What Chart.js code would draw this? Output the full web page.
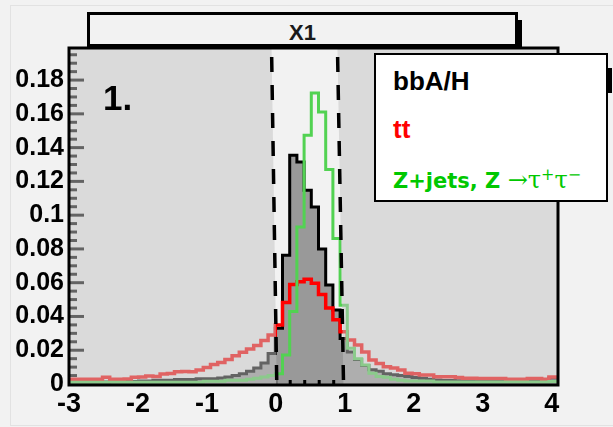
<!DOCTYPE html>
<html>
<head>
<meta charset="utf-8">
<script src="https://cdn.jsdelivr.net/npm/chart.js@4.4.1/dist/chart.umd.min.js"></script>
<style>
  html, body { margin: 0; padding: 0; background: #f2f2f2; }
  #wrap { position: relative; width: 613px; height: 427px; overflow: hidden; }
  #chart { position: absolute; left: 0; top: 0; }
  #page { position: absolute; left: 10px; top: 5px; width: 640px; height: 419px; border-left: 1px solid #e2e2e2; border-top: 1px solid #e2e2e2; border-bottom: 1px solid #e2e2e2; }
  #title { position: absolute; left: 87px; top: 12px; width: 431px; height: 35px; box-sizing: border-box; border: 3px solid #000; background: #f2f2f2;
           font: bold 22px 'Liberation Sans', Arial, sans-serif; color: #1a1a1a; text-align: center; line-height: 25px; padding-top: 5px; }
  #titleShadow { position: absolute; left: 518px; top: 20px; width: 4px; height: 27px; background: #000; }
  #legend { position: absolute; left: 374px; top: 53px; width: 234px; height: 149px; box-sizing: border-box; border: 2px solid #000; background: #fff; }
  #legendShadow { position: absolute; left: 608px; top: 68px; width: 4px; height: 25px; background: #000; }
  .txt { position: absolute; white-space: nowrap; line-height: 1; }
  .lab { font-family: 'Liberation Sans', Arial, sans-serif; font-weight: bold; font-size: 26px; }
  #lz { font-family: 'DejaVu Sans', sans-serif; font-weight: bold; font-size: 21px; color: #00c800; }
  #lz .sym { font-family: 'DejaVu Serif', 'Liberation Serif', serif; font-weight: normal; font-size: 24px; }
  #lz .sup { font-size: 16px; vertical-align: baseline; position: relative; top: -8px; }
  #num { font-family: 'Liberation Sans', Arial, sans-serif; font-weight: bold; font-size: 35px; color: #000; }
</style>
</head>
<body>
<div id="wrap">
  <div id="page"></div>
  <canvas id="chart" width="613" height="427"></canvas>
  <div id="num" class="txt" style="left:103px; top:80px;">1.</div>
  <div id="titleShadow"></div>
  <div id="title">X1</div>
  <div id="legendShadow"></div>
  <div id="legend"></div>
  <div class="txt lab" style="left:393px; top:68px; color:#000;">bbA/H</div>
  <div class="txt lab" style="left:393px; top:116px; color:#ff0000;">tt</div>
  <div id="lz" class="txt" style="left:393px; top:168px;">Z+jets, Z <span class="sym">→τ<span class="sup">+</span>τ<span class="sup">−</span></span></div>
</div>
<script>
// histogram binning (X1), 69 bins
const binStart = -3.036;
const binWidth = 0.1044;

const xTicks = [-3, -2, -1, 0, 1, 2, 3, 4];
const yTicks = [0, 0.02, 0.04, 0.06, 0.08, 0.1, 0.12, 0.14, 0.16, 0.18];
const yTickLabels = ['0', '0.02', '0.04', '0.06', '0.08', '0.1', '0.12', '0.14', '0.16', '0.18'];

// bbA/H (black, filled)
const bbAH = [
  0.0012, 0.0012, 0.0012, 0.0012, 0.0012, 0.0012, 0.0015, 0.0015, 0.0015, 0.0015,
  0.0018, 0.0018, 0.0022, 0.0022, 0.0022, 0.0027, 0.0027, 0.0027, 0.0031, 0.0031,
  0.0031, 0.0036, 0.0042, 0.0050, 0.0060, 0.0075, 0.0095, 0.0125, 0.0180, 0.0330,
  0.0763, 0.1355, 0.1315, 0.1148, 0.1049, 0.0800, 0.0586, 0.0438, 0.0270, 0.0190,
  0.0145, 0.0110, 0.0085, 0.0075, 0.0060, 0.0055, 0.0050, 0.0045, 0.0038, 0.0034,
  0.0028, 0.0024, 0.0021, 0.0020, 0.0019, 0.0018, 0.0018, 0.0018, 0.0018, 0.0018,
  0.0018, 0.0016, 0.0016, 0.0016, 0.0016, 0.0016, 0.0016, 0.0035, 0.0035
];

// tt (red)
const ttbar = [
  0.0028, 0.0028, 0.0028, 0.0028, 0.0028, 0.0040, 0.0028, 0.0028, 0.0030, 0.0040,
  0.0042, 0.0047, 0.0045, 0.0059, 0.0062, 0.0072, 0.0074, 0.0072, 0.0083, 0.0098,
  0.0115, 0.0128, 0.0145, 0.0168, 0.0188, 0.0208, 0.0228, 0.0258, 0.0290, 0.0349,
  0.0483, 0.0590, 0.0605, 0.0620, 0.0596, 0.0530, 0.0450, 0.0380, 0.0310, 0.0260,
  0.0231, 0.0190, 0.0142, 0.0122, 0.0102, 0.0095, 0.0083, 0.0063, 0.0060, 0.0053,
  0.0053, 0.0043, 0.0043, 0.0043, 0.0038, 0.0034, 0.0034, 0.0032, 0.0032, 0.0032,
  0.0032, 0.0028, 0.0028, 0.0028, 0.0032, 0.0032, 0.0028, 0.0042, 0.0042
];

// Z+jets, Z -> tau tau (green)
const zTauTau = [
  0.0010, 0.0010, 0.0010, 0.0010, 0.0010, 0.0010, 0.0010, 0.0010, 0.0010, 0.0010,
  0.0010, 0.0010, 0.0010, 0.0010, 0.0010, 0.0010, 0.0010, 0.0010, 0.0010, 0.0016,
  0.0016, 0.0016, 0.0022, 0.0022, 0.0022, 0.0028, 0.0034, 0.0042, 0.0050, 0.0060,
  0.0172, 0.0430, 0.0930, 0.1473, 0.1724, 0.1611, 0.1270, 0.0862, 0.0467, 0.0211,
  0.0150, 0.0112, 0.0063, 0.0045, 0.0040, 0.0028, 0.0022, 0.0018, 0.0018, 0.0018,
  0.0018, 0.0012, 0.0012, 0.0012, 0.0012, 0.0012, 0.0012, 0.0012, 0.0012, 0.0012,
  0.0012, 0.0012, 0.0012, 0.0012, 0.0012, 0.0012, 0.0012, 0.0015, 0.0015
];

// cut window (x at top of frame, x at bottom)
const cutLow = [-0.063, 0.012];
const cutHigh = [0.893, 0.980];
const minorStep = 0.005;

const font = "'Liberation Sans', Arial, sans-serif";

function histPoints(values) {
  const pts = values.map((v, i) => ({ x: binStart + i * binWidth, y: v }));
  pts.push({ x: binStart + values.length * binWidth, y: values[values.length - 1] });
  return pts;
}

const padFrame = {
  id: 'padFrame',
  beforeDatasetsDraw(chart) {
    const { ctx, chartArea: a, scales: { y } } = chart;
    ctx.save();
    ctx.strokeStyle = '#000';
    ctx.lineWidth = 3;
    for (let i = 0; i * minorStep <= y.max; i++) {
      const py = y.getPixelForValue(i * minorStep);
      const len = i % 4 === 0 ? 15 : 8;
      ctx.beginPath();
      ctx.moveTo(a.left, py);
      ctx.lineTo(a.left + len, py);
      ctx.stroke();
    }
    ctx.restore();
  },
  afterDatasetsDraw(chart) {
    const { ctx, chartArea: a, scales: { x } } = chart;
    const lt = x.getPixelForValue(cutLow[0]), lb = x.getPixelForValue(cutLow[1]);
    const rt = x.getPixelForValue(cutHigh[0]), rb = x.getPixelForValue(cutHigh[1]);
    ctx.save();
    // shade outside the window
    ctx.fillStyle = 'rgba(195,195,195,0.51)';
    ctx.beginPath();
    ctx.moveTo(a.left, a.top); ctx.lineTo(lt, a.top); ctx.lineTo(lb, a.bottom); ctx.lineTo(a.left, a.bottom);
    ctx.closePath(); ctx.fill();
    ctx.beginPath();
    ctx.moveTo(rt, a.top); ctx.lineTo(a.right, a.top); ctx.lineTo(a.right, a.bottom); ctx.lineTo(rb, a.bottom);
    ctx.closePath(); ctx.fill();

    // dashed cut lines
    ctx.strokeStyle = '#000';
    ctx.lineWidth = 3.5;
    ctx.setLineDash([15, 13]);
    ctx.lineDashOffset = 19;
    ctx.beginPath(); ctx.moveTo(lt, a.top); ctx.lineTo(lb, a.bottom - 4); ctx.stroke();
    ctx.beginPath(); ctx.moveTo(rt, a.top); ctx.lineTo(rb, a.bottom - 4); ctx.stroke();
    ctx.lineWidth = 4;
    ctx.setLineDash([3, 11.5]);
    ctx.lineDashOffset = 2.5;
    ctx.beginPath(); ctx.moveTo(lb, a.bottom - 2); ctx.lineTo(rb, a.bottom - 2); ctx.stroke();

    // frame
    ctx.setLineDash([]);
    ctx.lineWidth = 3;
    ctx.strokeRect(a.left, a.top, a.right - a.left, a.bottom - a.top + 1);
    ctx.restore();
  }
};

new Chart(document.getElementById('chart'), {
  type: 'line',
  data: {
    datasets: [
      { label: 'Z+jets, Z→ττ', data: histPoints(zTauTau), borderColor: 'rgb(82,210,82)', borderWidth: 3, stepped: true, fill: false, clip: 0 },
      { label: 'tt', data: histPoints(ttbar), borderColor: '#ff0000', borderWidth: 3.5, stepped: true, fill: false, clip: 0 },
      { label: 'bbA/H', data: histPoints(bbAH), borderColor: '#000000', backgroundColor: '#999999', borderWidth: 3, stepped: true, fill: 'origin', clip: 0 }
    ]
  },
  options: {
    responsive: false,
    animation: false,
    devicePixelRatio: 1,
    layout: { padding: { left: 0, top: 48, right: 55, bottom: 0 } },
    elements: { point: { radius: 0 }, line: { tension: 0, borderCapStyle: 'butt', borderJoinStyle: 'miter' } },
    plugins: { legend: { display: false }, tooltip: { enabled: false } },
    scales: {
      x: {
        type: 'linear', min: -3, max: 4.091,
        afterFit: s => { s.height = 43; },
        afterBuildTicks: s => { s.ticks = xTicks.map(v => ({ value: v })); },
        grid: { display: false, drawTicks: false },
        border: { display: false },
        ticks: { padding: 4, color: '#000', font: { family: font, size: 27, weight: 'bold' }, callback: v => String(v) }
      },
      y: {
        type: 'linear', min: 0, max: 0.199,
        afterFit: s => { s.width = 69; },
        afterBuildTicks: s => { s.ticks = yTicks.map(v => ({ value: v })); },
        grid: { display: false, drawTicks: false },
        border: { display: false },
        ticks: { padding: 5, color: '#000', font: { family: font, size: 25, weight: 'bold' }, callback: (v, i) => yTickLabels[i] }
      }
    }
  },
  plugins: [padFrame]
});
</script>
</body>
</html>
